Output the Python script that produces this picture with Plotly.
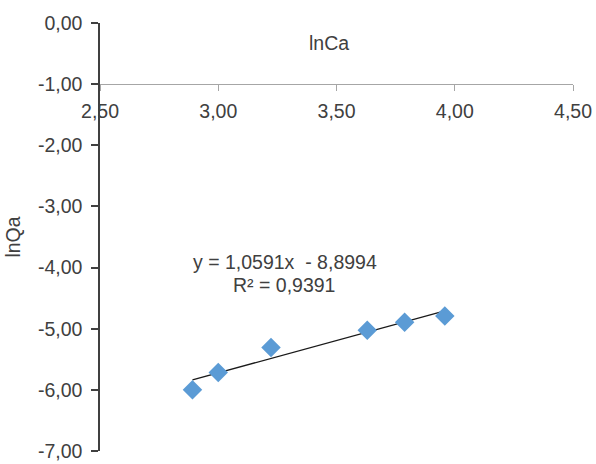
import plotly.graph_objects as go

# Data: ln of equilibrium concentration vs ln of adsorbed amount
ln_ca = [2.891, 3.000, 3.223, 3.630, 3.788, 3.958]
ln_qa = [-6.00, -5.715, -5.307, -5.024, -4.894, -4.791]

# Linear trendline coefficients and coefficient of determination
slope = 1.0591
intercept = -8.8994
r_squared = 0.9391

x_ticks = [2.5, 3.0, 3.5, 4.0, 4.5]
y_ticks = [0, -1, -2, -3, -4, -5, -6, -7]

FONT = "Liberation Sans, Arial, sans-serif"
TEXT = "#404040"
SIZE = 19.5


def comma(v, d=4):
    # decimal comma with a plain hyphen for negatives
    return f"{v:.{d}f}".replace(".", ",")


x_line = [min(ln_ca), max(ln_ca)]
y_line = [slope * x + intercept for x in x_line]

fig = go.Figure()
fig.add_trace(go.Scatter(
    x=x_line, y=y_line, mode="lines",
    line=dict(color="#1a1a1a", width=1.3),
    hoverinfo="skip", showlegend=False,
))
fig.add_trace(go.Scatter(
    x=ln_ca, y=ln_qa, mode="markers",
    marker=dict(symbol="diamond", size=15, color="#5b9bd5"),
    showlegend=False,
))

sign = "-" if intercept < 0 else "+"
fig.add_annotation(
    x=3.284, y=-3.915, xref="x", yref="y", showarrow=False,
    text=f"y = {comma(slope)}x  {sign} {comma(abs(intercept))}",
    font=dict(family=FONT, size=SIZE, color=TEXT), xanchor="center", yanchor="middle",
)
fig.add_annotation(
    x=3.28, y=-4.29, xref="x", yref="y", showarrow=False,
    text=f"R² = {comma(r_squared)}",
    font=dict(family=FONT, size=SIZE, color=TEXT), xanchor="center", yanchor="middle",
)
fig.add_annotation(
    x=3.47, y=-0.326, xref="x", yref="y", showarrow=False,
    text="lnCa", font=dict(family=FONT, size=SIZE, color=TEXT),
    xanchor="center", yanchor="middle",
)

fig.update_layout(
    width=596, height=464,
    margin=dict(l=100, r=23, t=23, b=13),
    paper_bgcolor="white", plot_bgcolor="white",
    font=dict(family=FONT, size=SIZE, color=TEXT),
    xaxis=dict(
        range=[2.5, 4.5], tickvals=x_ticks,
        ticktext=[comma(v, 2) for v in x_ticks],
        anchor="free", position=6 / 7, automargin=False,
        showgrid=False, zeroline=False,
        showline=True, linecolor="#a6a6a6", linewidth=1.3,
        ticks="outside", ticklen=6, tickcolor="#a6a6a6", tickwidth=1.3,
        ticklabelstandoff=3,
        tickfont=dict(family=FONT, size=SIZE, color=TEXT),
    ),
    yaxis=dict(
        range=[-7, 0], tickvals=y_ticks,
        ticktext=[comma(v, 2) for v in y_ticks],
        automargin=False,
        showgrid=False, zeroline=False,
        showline=True, linecolor="#404040", linewidth=1.5,
        ticks="outside", ticklen=7, tickcolor="#404040", tickwidth=1.5,
        ticklabelstandoff=5,
        tickfont=dict(family=FONT, size=SIZE, color=TEXT),
        title=dict(text="lnQa", font=dict(family=FONT, size=SIZE, color=TEXT), standoff=12),
    ),
)

fig.write_html("out.html")
